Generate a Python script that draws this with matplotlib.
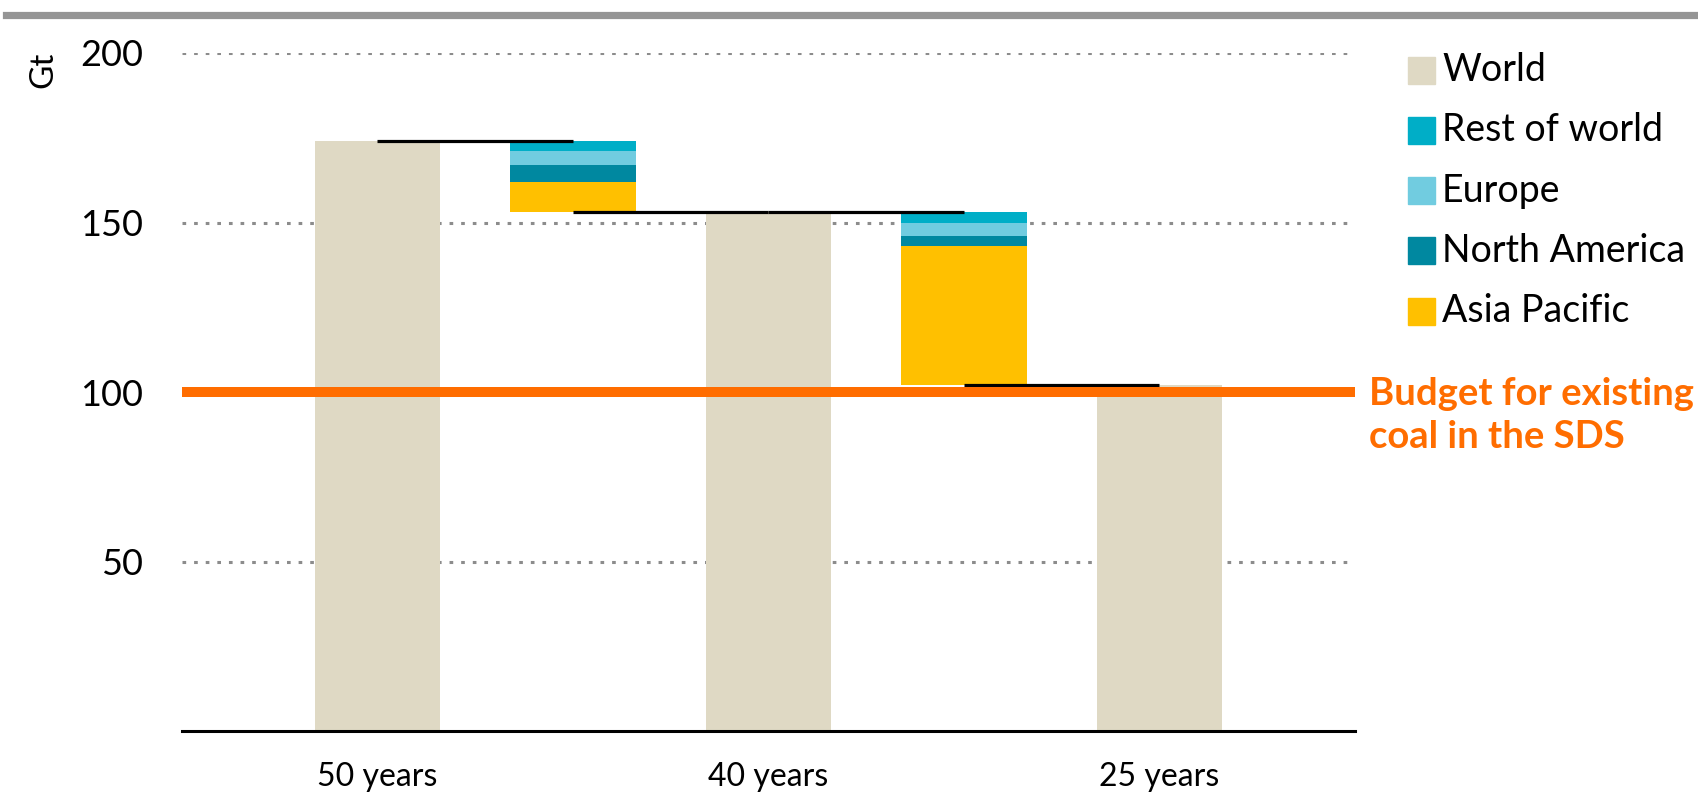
import matplotlib
matplotlib.use("Agg")
import matplotlib.pyplot as plt
from matplotlib.patches import Rectangle
from matplotlib.lines import Line2D

plt.rcParams['font.family'] = ['Lato', 'DejaVu Sans']

# Coal emissions from existing plants under different lifetimes (Gt)
periods = ["50 years", "40 years", "25 years"]
world = [174, 153, 102]

# Reductions between consecutive lifetimes, by region
regions = ["Rest of world", "Europe", "North America", "Asia Pacific"]
rest_of_world = [3, 3]
europe = [4, 4]
north_america = [5, 3]
asia_pacific = [9, 41]

budget_sds = 100
budget_label = "Budget for existing\ncoal in the SDS"

yticks = [50, 100, 150, 200]

c_world = "#DFD9C4"
c_row = "#00AEC7"
c_eur = "#71CCE0"
c_na = "#0088A0"
c_ap = "#FFC000"
c_budget = "#FF6D00"

fig = plt.figure(figsize=(16.99, 7.92), dpi=100)
ax = fig.add_axes([182 / 1699, 1 - 731 / 792, (1355 - 182) / 1699, (731 - 53) / 792])

width = 0.64
# World totals at even slots, regional drops at odd slots
world_x = [2 * i for i in range(len(world))]
ax.bar(world_x, world, width=width, color=c_world, zorder=2)

drops = list(zip(asia_pacific, north_america, europe, rest_of_world))
seg_colors = [c_ap, c_na, c_eur, c_row]
for i, parts in enumerate(drops):
    x = 2 * i + 1
    bottom = world[i + 1]
    for val, col in zip(parts, seg_colors):
        ax.bar(x, val, bottom=bottom, width=width, color=col, zorder=2)
        bottom += val

# Connector lines between totals and drop bars
for i in range(len(drops)):
    ax.hlines(world[i], 2 * i, 2 * i + 1, color="black", lw=2.3, zorder=3)
    ax.hlines(world[i + 1], 2 * i + 1, 2 * i + 2, color="black", lw=2.3, zorder=3)

# Carbon budget line
ax.axhline(budget_sds, color=c_budget, lw=7.2, zorder=4, solid_capstyle="butt")
ax.text(1.012, budget_sds + 4.3, budget_label, transform=ax.get_yaxis_transform(),
        color=c_budget, fontsize=27.5, fontweight="bold", va="top",
        ha="left", linespacing=1.3)

ax.set_xlim(-1, 5)
ax.set_ylim(0, 200)
ax.set_yticks(yticks)
ax.set_yticklabels([str(v) for v in yticks])
ax.set_xticks(world_x)
ax.set_xticklabels(periods, fontsize=23)
ax.tick_params(axis="both", length=0, colors="black")
ax.tick_params(axis="y", pad=28, labelsize=26)
ax.tick_params(axis="x", pad=22)
ax.yaxis.grid(True, linestyle=(0, (1.2, 2.6)), color="#8C8C8C", lw=2.2, zorder=0)
ax.set_axisbelow(True)
for s in ["left", "right", "top"]:
    ax.spines[s].set_visible(False)
ax.spines["bottom"].set_linewidth(2.2)
ax.spines["bottom"].set_zorder(5)

fig.text(43 / 1699, 1 - 70 / 792, "Gt", rotation=90, fontsize=24,
         ha="center", va="center")

# Header rule
fig.add_artist(Line2D([6 / 1699, 1], [1 - 14.5 / 792] * 2, color="#959595",
                      lw=5.2, transform=fig.transFigure))

# Legend
legend_names = ["World"] + regions
legend_colors = [c_world, c_row, c_eur, c_na, c_ap]
for k, (name, col) in enumerate(zip(legend_names, legend_colors)):
    yc = 70 + 60.3 * k
    fig.add_artist(Rectangle((1408 / 1699, 1 - (yc + 13.5) / 792), 27 / 1699, 27 / 792,
                             color=col, transform=fig.transFigure))
    fig.text(1442 / 1699, 1 - yc / 792, name, fontsize=27, ha="left", va="center")

fig.savefig("out.png", dpi=100)
